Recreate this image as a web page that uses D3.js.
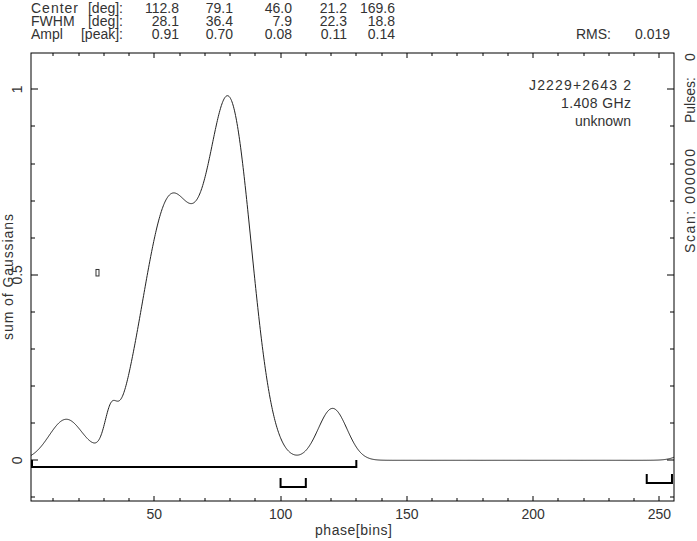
<!DOCTYPE html>
<html><head><meta charset="utf-8">
<script src="https://cdn.jsdelivr.net/npm/d3@7"></script>
<style>
body{margin:0;background:#fff}
text{font-family:"Liberation Sans",Arial,sans-serif;font-size:14px;fill:#333}
</style>
</head><body>
<svg id="chart" width="697" height="541"></svg>
<script>
// ---- data ----
const componentCentersDeg = [112.8, 79.1, 46.0, 21.2, 169.6];
const componentFwhmDeg    = [28.1, 36.4, 7.9, 22.3, 18.8];
const componentAmpl       = [0.91, 0.70, 0.08, 0.11, 0.14];
const centerLabels = ["112.8", "79.1", "46.0", "21.2", "169.6"];
const fwhmLabels   = ["28.1", "36.4", "7.9", "22.3", "18.8"];
const amplLabels   = ["0.91", "0.70", "0.08", "0.11", "0.14"];
const rowNames = ["Center", "FWHM", "Ampl"];
const rowUnits = ["[deg]:", "[deg]:", "[peak]:"];
const rmsText = "0.019";
const nBins = 256;
const sourceLines = ["J2229+2643 2", "1.408 GHz", "unknown"];
const xTickLabels = [50, 100, 150, 200, 250];
const yTickLabels = [0, 0.5, 1];
const bracketBins = [[1, 130], [100, 110], [245, 255]];
const markerPoint = [27.5, 0.505];
const scanText = "Scan: 000000";
const pulsesText = "Pulses:";
const pulsesValue = "0";

// ---- layout ----
const svg = d3.select("#chart");
const L = 31, R = 674, T = 53, B = 501;
const x = d3.scaleLinear().domain([1.17, 255.8]).range([L, R]);
const y = d3.scaleLinear().domain([-0.1097, 1.098]).range([B, T]);

function widen(sel, w) {
  return sel.attr("textLength", w).attr("lengthAdjust", "spacing");
}

// model curve: sum of the listed Gaussian components (periodic over the pulse)
const comps = componentCentersDeg.map((c, i) => ({
  c: c / 360 * nBins,
  s: componentFwhmDeg[i] / 360 * nBins / (2 * Math.sqrt(2 * Math.log(2))),
  a: componentAmpl[i]
}));
const [d0, d1] = x.domain();
const samples = d3.range(d0, d1 + 0.001, 0.2).map(b => {
  let v = 0;
  comps.forEach(g => { for (const k of [-1, 0, 1]) { const d = (b - g.c + k * nBins) / g.s; v += g.a * Math.exp(-0.5 * d * d); } });
  return [b, v];
});

svg.append("path")
  .datum(samples)
  .attr("fill", "none").attr("stroke", "#222").attr("stroke-width", 1)
  .attr("d", d3.line().x(d => x(d[0])).y(d => y(d[1])));

// frame
svg.append("rect").attr("x", L).attr("y", T).attr("width", R - L).attr("height", B - T)
  .attr("fill", "none").attr("stroke", "#000").attr("stroke-width", 1);

// ticks
const tk = svg.append("g").attr("stroke", "#000").attr("stroke-width", 1);
d3.range(10, 256, 10).forEach(v => {
  const major = v % 50 === 0;
  const len = major ? 5 : 3;
  const px = Math.round(x(v));
  tk.append("line").attr("x1", px).attr("x2", px).attr("y1", B).attr("y2", B - len);
  tk.append("line").attr("x1", px).attr("x2", px).attr("y1", T).attr("y2", T + len);
});
d3.range(-1, 11).forEach(i => {
  const v = i / 10;
  const major = i % 5 === 0;
  const len = major ? 7 : 4;
  const py = Math.round(y(v));
  tk.append("line").attr("x1", L).attr("x2", L + len).attr("y1", py).attr("y2", py);
  tk.append("line").attr("x1", R).attr("x2", R - len).attr("y1", py).attr("y2", py);
});

// tick labels
svg.selectAll(".xl").data(xTickLabels).enter().append("text")
  .attr("x", d => x(d)).attr("y", 519).attr("text-anchor", "middle").text(d => d);
svg.selectAll(".yl").data(yTickLabels).enter().append("text")
  .attr("transform", d => `translate(22,${y(d)}) rotate(-90)`)
  .attr("text-anchor", "middle").text(d => d);

// axis titles
widen(svg.append("text").attr("x", 315).attr("y", 535).text("phase[bins]"), 77);
widen(svg.append("text").attr("transform", `translate(13,340) rotate(-90)`).text("sum of Gaussians"), 126);

// brackets
const brY = [[467, 460], [487, 478], [483, 474]];
const br = svg.append("g").attr("fill", "none").attr("stroke", "#000").attr("stroke-width", 2);
bracketBins.forEach((b, i) => {
  const x0 = Math.max(x(b[0]), L + 1), x1 = x(b[1]);
  const [yb, yt] = brY[i];
  br.append("path").attr("d", `M${x0},${yt}V${yb}H${x1}V${yt}`);
});

// small marker
svg.append("rect").attr("x", x(markerPoint[0]) - 1.5).attr("y", y(markerPoint[1]) - 3.5)
  .attr("width", 3).attr("height", 6.5).attr("fill", "none").attr("stroke", "#333").attr("stroke-width", 1);

// header table
const rowsBase = [13, 26, 39];
const colRight = [179, 233, 292, 347, 395];
[centerLabels, fwhmLabels, amplLabels].forEach((arr, r) => {
  const name = svg.append("text").attr("x", L).attr("y", rowsBase[r]).text(rowNames[r]);
  if (r === 0) widen(name, 47);
  svg.append("text").attr("x", 123).attr("y", rowsBase[r]).attr("text-anchor", "end").text(rowUnits[r]);
  arr.forEach((s, c) => svg.append("text").attr("x", colRight[c]).attr("y", rowsBase[r]).attr("text-anchor", "end").text(s));
});
svg.append("text").attr("x", 576).attr("y", 39).text("RMS:");
svg.append("text").attr("x", 670).attr("y", 39).attr("text-anchor", "end").text(rmsText);

// source info
const srcW = [102, 70];
sourceLines.forEach((s, i) => {
  const t = svg.append("text").attr("y", 90 + i * 18).text(s);
  if (srcW[i]) widen(t.attr("x", 631 - srcW[i]), srcW[i]);
  else t.attr("x", 631).attr("text-anchor", "end");
});

// right side rotated text
widen(svg.append("text").attr("transform", "translate(695,253) rotate(-90)").text(scanText), 104);
svg.append("text").attr("transform", "translate(695,123) rotate(-90)").text(pulsesText);
svg.append("text").attr("transform", "translate(695,61) rotate(-90)").text(pulsesValue);
</script>
</body></html>
